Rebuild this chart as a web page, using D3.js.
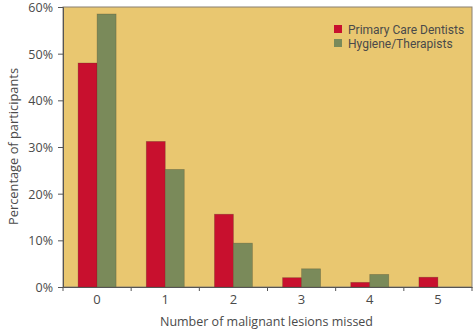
<!DOCTYPE html>
<html>
<head>
<meta charset="utf-8">
<script src="https://cdn.jsdelivr.net/npm/d3@7"></script>
<style>
  body { margin: 0; background: #fff; }
  text { font-family: "Open Sans", sans-serif; fill: #4a4a4a; }
</style>
</head>
<body>
<div id="chart"></div>
<script>
var categories = ["0", "1", "2", "3", "4", "5"];
var series = ["Primary Care Dentists", "Hygiene/Therapists"];
var dentists = [48, 31.2, 15.6, 2, 1, 2.1];
var hygiene = [58.5, 25.2, 9.4, 3.9, 2.7, 0];
var yTicks = [0, 10, 20, 30, 40, 50, 60];
var colors = ["#c8102e", "#7a8a5a"];

var chart = {};
chart.w = 475;
chart.h = 334;
chart.margin = { top: 7, right: 3, bottom: 47, left: 63 };
chart.iw = chart.w - chart.margin.left - chart.margin.right;
chart.ih = chart.h - chart.margin.top - chart.margin.bottom;

var svg = d3.select("#chart")
  .append("svg")
  .attr("width", chart.w)
  .attr("height", chart.h);

var g = svg.append("g")
  .attr("transform", "translate(" + chart.margin.left + "," + chart.margin.top + ")");

var x = d3.scaleBand()
  .domain(categories)
  .range([0, chart.iw]);

var xs = d3.scaleBand()
  .domain(series)
  .range([x.bandwidth() / 2 - 19, x.bandwidth() / 2 + 19]);

var y = d3.scaleLinear()
  .domain([0, 60])
  .range([chart.ih, 0]);

// background panel
g.append("rect")
  .attr("width", chart.iw)
  .attr("height", chart.ih)
  .attr("fill", "#e9c770")
  .attr("stroke", "#8a8070")
  .attr("stroke-width", 1);

var rows = categories.map(function(c, i) {
  return [ { s: series[0], v: dentists[i] }, { s: series[1], v: hygiene[i] } ];
});

var groups = g.selectAll(".cat")
  .data(rows)
  .enter().append("g")
  .attr("class", "cat")
  .attr("transform", function(d, i) { return "translate(" + x(categories[i]) + ",0)"; });

groups.selectAll("rect")
  .data(function(d) { return d.filter(function(e) { return e.v > 0; }); })
  .enter().append("rect")
  .attr("x", function(d) { return xs(d.s); })
  .attr("width", xs.bandwidth())
  .attr("y", function(d) { return y(d.v); })
  .attr("height", function(d) { return chart.ih - y(d.v); })
  .attr("fill", function(d) { return colors[series.indexOf(d.s)]; })
  .attr("stroke", "rgba(70,60,40,0.35)")
  .attr("stroke-width", 0.7);

// y axis
var yAxis = g.append("g")
  .call(d3.axisLeft(y).tickValues(yTicks).tickSize(5).tickFormat(function(d) { return d + "%"; }));
yAxis.select(".domain").attr("stroke", "#555");
yAxis.selectAll(".tick line").attr("stroke", "#555");
yAxis.selectAll(".tick text")
  .attr("x", -10)
  .attr("dy", "0.36em")
  .style("font-size", "12.5px")
  .style("font-family", "'Open Sans', sans-serif")
  .attr("fill", "#4a4a4a");

// x axis, ticks at the band boundaries
var xAxis = g.append("g")
  .attr("transform", "translate(0," + chart.ih + ")")
  .call(d3.axisBottom(x).tickSize(0).tickPadding(8));
xAxis.select(".domain").attr("stroke", "#555");
xAxis.selectAll(".tick text")
  .style("font-size", "13px")
  .style("font-family", "'Open Sans', sans-serif")
  .attr("fill", "#4a4a4a");

var bounds = categories.map(function(c) { return x(c); }).concat([chart.iw]);
xAxis.selectAll(".bound")
  .data(bounds)
  .enter().append("line")
  .attr("class", "bound")
  .attr("x1", function(d) { return d; })
  .attr("x2", function(d) { return d; })
  .attr("y1", 0)
  .attr("y2", 4)
  .attr("stroke", "#555");

// axis titles
svg.append("text")
  .attr("x", chart.margin.left + chart.iw / 2 - 1)
  .attr("y", 326)
  .attr("text-anchor", "middle")
  .attr("textLength", 213)
  .attr("lengthAdjust", "spacingAndGlyphs")
  .style("font-size", "13.5px")
  .text("Number of malignant lesions missed");

svg.append("text")
  .attr("transform", "translate(18,146.5) rotate(-90)")
  .attr("text-anchor", "middle")
  .attr("textLength", 157)
  .attr("lengthAdjust", "spacingAndGlyphs")
  .style("font-size", "13.5px")
  .text("Percentage of participants");

// legend
var legend = svg.append("g")
  .attr("transform", "translate(334,25)");
var li = legend.selectAll(".li")
  .data(series)
  .enter().append("g")
  .attr("class", "li")
  .attr("transform", function(d, i) { return "translate(0," + (i * 14) + ")"; });
li.append("rect")
  .attr("width", 8)
  .attr("height", 8)
  .attr("fill", function(d, i) { return colors[i]; });
li.append("text")
  .attr("x", 14)
  .attr("y", 8.5)
  .style("font-size", "12px")
  .style("font-family", "Roboto, sans-serif")
  .text(function(d) { return d; });
</script>
</body>
</html>
